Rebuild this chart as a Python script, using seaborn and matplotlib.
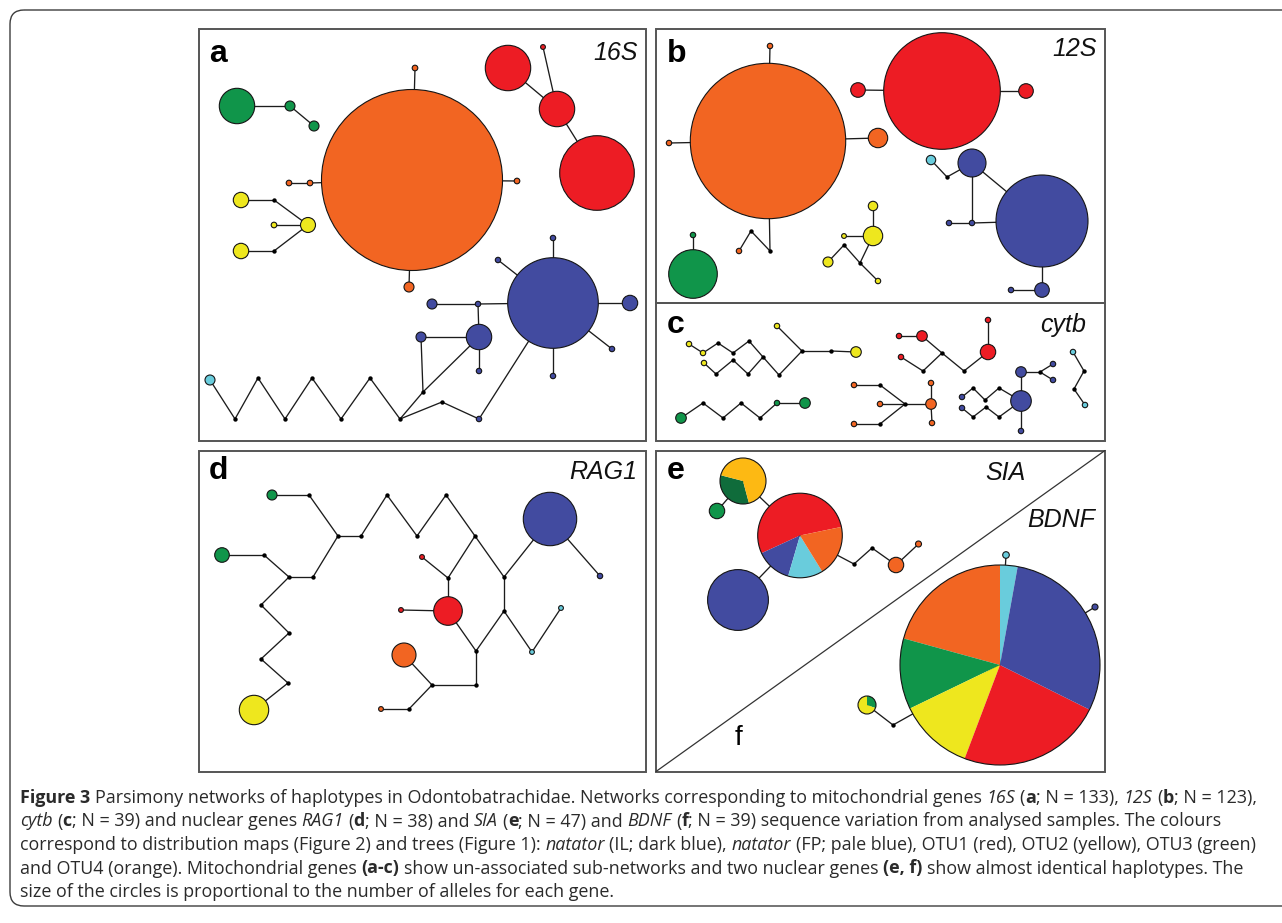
import re
import matplotlib
matplotlib.use("Agg")
import matplotlib.pyplot as plt
import pandas as pd
import seaborn as sns
from matplotlib.patches import Circle, Wedge, Rectangle, FancyBboxPatch

# lineage colours
PAL = {"o": "#F26522", "r": "#ED1C24", "y": "#EEE71E", "g": "#10954A",
       "b": "#424BA0", "p": "#69CCDC", "dg": "#0F6C3B", "au": "#FDB913"}

# haplotype nodes: id, x, y, radius, colour ("k" = median vector, "pie" = pie chart)
a_nodes = [
    ("G1", 237, 106, 17.7, "g"), ("G2", 290, 106, 5, "g"), ("G3", 314, 126, 5, "g"),
    ("O1", 412, 180, 90.5, "o"), ("O2", 415, 68, 2.8, "o"), ("O3", 310, 183, 2.8, "o"),
    ("O4", 289, 183, 2.8, "o"), ("O5", 517, 181, 2.8, "o"), ("O6", 409, 287, 5, "o"),
    ("Y1", 241, 200, 7.7, "y"), ("Y2", 308, 225, 7.5, "y"), ("Y3", 274, 225, 2.8, "y"),
    ("Y4", 241, 251, 7.7, "y"), ("J1", 274, 200, 2, "k"), ("J2", 274, 251, 2, "k"),
    ("R1", 508, 68, 22.7, "r"), ("R2", 543, 47, 2.4, "r"), ("R3", 557, 109, 17.7, "r"),
    ("R4", 597, 173, 37.3, "r"),
    ("B1", 553, 303, 45.3, "b"), ("B2", 553, 238, 2.7, "b"), ("B3", 498, 260, 2.7, "b"),
    ("B4", 630, 303, 7.7, "b"), ("B5", 612, 349, 2.7, "b"), ("B6", 553, 376, 2.7, "b"),
    ("B7", 478, 304, 2.7, "b"), ("B8", 432, 304, 5, "b"), ("B9", 479, 337, 12.7, "b"),
    ("B10", 479, 371, 2.7, "b"), ("B11", 421, 337, 5, "b"), ("B12", 479, 419, 2.7, "b"),
    ("J3", 442, 402, 2, "k"), ("J4", 423, 392, 2, "k"),
    ("P1", 210, 380, 5, "p"), ("J5", 235, 419, 2, "k"), ("J6", 258, 378, 2, "k"),
    ("J7", 285, 419, 2, "k"), ("J8", 312, 378, 2, "k"), ("J9", 341, 419, 2, "k"),
    ("J10", 370, 378, 2, "k"), ("J11", 400, 419, 2, "k"),
]
a_edges = [("G1", "G2"), ("G2", "G3"), ("O1", "O2"), ("O1", "O3"), ("O3", "O4"),
           ("O1", "O5"), ("O1", "O6"), ("Y1", "J1"), ("J1", "Y2"), ("Y3", "Y2"),
           ("Y4", "J2"), ("J2", "Y2"), ("R1", "R3"), ("R2", "R3"), ("R3", "R4"),
           ("B1", "B2"), ("B1", "B3"), ("B1", "B4"), ("B1", "B5"), ("B1", "B6"),
           ("B1", "B7"), ("B7", "B8"), ("B7", "B9"), ("B9", "B10"), ("B11", "B9"),
           ("B1", "B12"), ("B12", "J3"), ("J3", "J11"), ("J11", "J4"), ("J4", "B11"),
           ("J4", "B9"), ("P1", "J5"), ("J5", "J6"), ("J6", "J7"), ("J7", "J8"),
           ("J8", "J9"), ("J9", "J10"), ("J10", "J11")]

b_nodes = [
    ("O1", 768, 141, 77.7, "o"), ("O2", 770, 46, 2.7, "o"), ("O3", 669, 143, 2.7, "o"),
    ("O4", 878, 138, 9.7, "o"), ("J1", 770, 251, 2, "k"), ("J2", 751, 231, 2, "k"),
    ("O5", 739, 251, 2.7, "o"),
    ("R1", 942, 91, 58.3, "r"), ("R2", 858, 90, 7.3, "r"), ("R3", 1026, 91, 7.3, "r"),
    ("B1", 972, 163, 14, "b"), ("P1", 931, 160, 4.7, "p"), ("J3", 947, 177, 2, "k"),
    ("B2", 972, 223, 2.7, "b"), ("B3", 949, 223, 2.7, "b"), ("B4", 1042, 221, 46, "b"),
    ("B5", 1042, 290, 7.3, "b"), ("B6", 1011, 290, 2.7, "b"),
    ("G1", 693, 274, 24.3, "g"), ("G2", 693, 235, 2.7, "g"),
    ("Y1", 873, 236, 9.7, "y"), ("Y2", 873, 206, 4.7, "y"), ("Y3", 844, 236, 2.4, "y"),
    ("J4", 844, 245, 2, "k"), ("Y4", 828, 262, 5, "y"), ("J5", 860, 263, 2, "k"),
    ("Y5", 878, 281, 2.7, "y"),
]
b_edges = [("O1", "O2"), ("O1", "O3"), ("O1", "O4"), ("O1", "J1"), ("J1", "J2"),
           ("J2", "O5"), ("R1", "R2"), ("R1", "R3"), ("P1", "J3"), ("J3", "B1"),
           ("B1", "B2"), ("B3", "B2"), ("B2", "B4"), ("B1", "B4"), ("B4", "B5"),
           ("B6", "B5"), ("G1", "G2"), ("Y2", "Y1"), ("Y3", "Y1"), ("Y1", "J5"),
           ("J5", "J4"), ("J4", "Y4"), ("J5", "Y5")]

c_nodes = [
    ("Ya", 689, 344, 2.7, "y"), ("Yb", 703, 353, 2.7, "y"), ("Yc", 704, 363, 2.7, "y"),
    ("Yd", 777, 326, 2.7, "y"), ("Ye", 856, 352, 5.3, "y"),
    ("c1", 718, 343, 2, "k"), ("c2", 733, 353, 2, "k"), ("c3", 749, 341, 2, "k"),
    ("c4", 763, 357, 2, "k"), ("c5", 779, 375, 2, "k"), ("c6", 802, 351, 2, "k"),
    ("c7", 831, 351, 2, "k"), ("c8", 733, 360, 2, "k"), ("c9", 716, 374, 2, "k"),
    ("c10", 748, 374, 2, "k"),
    ("Ga", 681, 418, 5.3, "g"), ("g1", 703, 403, 2, "k"), ("g2", 723, 418, 2, "k"),
    ("g3", 741, 403, 2, "k"), ("g4", 760, 418, 2, "k"), ("Gb", 777, 403, 2.7, "g"),
    ("Gc", 805, 403, 5.3, "g"),
    ("Oa", 854, 385, 2.7, "o"), ("o1", 880, 385, 2, "k"), ("Ob", 880, 404, 2.7, "o"),
    ("o2", 905, 404, 2, "k"), ("Oc", 854, 424, 2.7, "o"), ("o3", 880, 424, 2, "k"),
    ("Od", 931, 404, 5.3, "o"), ("Oe", 931, 383, 2.7, "o"), ("Of", 932, 423, 2.7, "o"),
    ("Ra", 899, 336, 2.7, "r"), ("Rb", 922, 336, 5.3, "r"), ("r1", 942, 353, 2, "k"),
    ("Rc", 901, 357, 2.7, "r"), ("r2", 923, 371, 2, "k"), ("r3", 964, 371, 2, "k"),
    ("Rd", 988, 352, 7.7, "r"), ("Re", 988, 320, 2.7, "r"),
    ("Ba", 962, 397, 2.7, "b"), ("Bb", 962, 408, 2.7, "b"), ("b1", 973, 388, 2, "k"),
    ("b2", 985, 400, 2, "k"), ("b3", 999, 388, 2, "k"), ("b4", 973, 417, 2, "k"),
    ("b5", 986, 407, 2, "k"), ("b6", 999, 417, 2, "k"), ("Bc", 1021, 401, 10.3, "b"),
    ("Bd", 1021, 372, 5.3, "b"), ("b7", 1040, 372, 2, "k"), ("Be", 1053, 364, 2.7, "b"),
    ("Bf", 1053, 380, 2.7, "b"), ("Bg", 1021, 431, 2.7, "b"),
    ("Pa", 1073, 352, 2.7, "p"), ("p1", 1084, 371, 2, "k"), ("p2", 1074, 389, 2, "k"),
    ("Pb", 1085, 405, 2.7, "p"),
]
c_edges = [("Ya", "Yb"), ("Yb", "c1"), ("c1", "c2"), ("c2", "c3"), ("c3", "c4"),
           ("c4", "c5"), ("c5", "c6"), ("c6", "Yd"), ("c6", "c7"), ("c7", "Ye"),
           ("Yc", "c9"), ("c9", "c8"), ("c8", "c10"), ("c10", "c4"),
           ("Ga", "g1"), ("g1", "g2"), ("g2", "g3"), ("g3", "g4"), ("g4", "Gb"), ("Gb", "Gc"),
           ("Oa", "o1"), ("o1", "o2"), ("Ob", "o2"), ("Oc", "o3"), ("o3", "o2"),
           ("o2", "Od"), ("Oe", "Od"), ("Od", "Of"),
           ("Ra", "Rb"), ("Rb", "r1"), ("r1", "r3"), ("Rc", "r2"), ("r2", "r1"),
           ("r3", "Rd"), ("Rd", "Re"),
           ("Ba", "b1"), ("b1", "b2"), ("b2", "b3"), ("b3", "Bc"), ("Bb", "b4"),
           ("b4", "b5"), ("b5", "b6"), ("b6", "Bc"), ("Bc", "Bd"), ("Bd", "b7"),
           ("b7", "Be"), ("b7", "Bf"), ("Bc", "Bg"),
           ("Pa", "p1"), ("p1", "p2"), ("p2", "Pb")]

d_nodes = [
    ("Ga", 272, 495, 5, "g"), ("d1", 309, 495, 2, "k"), ("d2", 338, 536, 2, "k"),
    ("d3", 361, 536, 2, "k"), ("d4", 387, 495, 2, "k"), ("d5", 417, 536, 2, "k"),
    ("d6", 446, 495, 2, "k"), ("d7", 475, 536, 2, "k"), ("d8", 504, 577, 2, "k"),
    ("Ba", 550, 519, 26.7, "b"), ("Bb", 600, 576, 2.7, "b"),
    ("Gb", 222, 555, 7.3, "g"), ("d9", 264, 555, 2, "k"), ("d10", 289, 577, 2, "k"),
    ("d11", 313, 577, 2, "k"), ("d12", 261, 605, 2, "k"), ("d13", 289, 633, 2, "k"),
    ("d14", 261, 659, 2, "k"), ("d15", 288, 683, 2, "k"), ("Y", 254, 710, 14.7, "y"),
    ("Ra", 422, 557, 2.4, "r"), ("d16", 448, 578, 2, "k"), ("Rb", 448, 611, 14.3, "r"),
    ("Rc", 401, 610, 2.4, "r"), ("d17", 504, 611, 2, "k"), ("d18", 476, 651, 2, "k"),
    ("d19", 476, 685, 2, "k"), ("d20", 432, 685, 2, "k"), ("O", 404, 655, 12, "o"),
    ("d21", 409, 709, 2, "k"), ("Ob", 381, 709, 2.4, "o"),
    ("Pa", 532, 652, 2.4, "p"), ("Pb", 561, 608, 2.4, "p"),
]
d_edges = [("Ga", "d1"), ("d1", "d2"), ("d2", "d3"), ("d3", "d4"), ("d4", "d5"),
           ("d5", "d6"), ("d6", "d7"), ("d7", "d8"), ("d8", "Ba"), ("Ba", "Bb"),
           ("Gb", "d9"), ("d9", "d10"), ("d10", "d11"), ("d11", "d2"), ("d10", "d12"),
           ("d12", "d13"), ("d13", "d14"), ("d14", "d15"), ("d15", "Y"),
           ("Ra", "d16"), ("d7", "d16"), ("d16", "Rb"), ("Rc", "Rb"), ("d8", "d17"),
           ("Rb", "d18"), ("d17", "d18"), ("d18", "d19"), ("d19", "d20"), ("O", "d20"),
           ("d20", "d21"), ("d21", "Ob"), ("d17", "Pa"), ("Pa", "Pb")]

ef_nodes = [
    ("T", 743, 481, 23, "pie"), ("Gs", 717, 511, 7.7, "g"), ("M", 800, 535.5, 42.3, "pie"),
    ("Bl", 738, 600, 30.4, "b"), ("e1", 854, 564, 2, "k"), ("e2", 872, 548, 2, "k"),
    ("Or", 896, 565, 7.7, "o"), ("Os", 918.5, 544, 3, "o"),
    ("F", 1000, 665, 100, "pie"), ("Ps", 1006, 555, 3.3, "p"), ("Bs", 1095, 607, 3, "b"),
    ("S", 867, 705, 9, "pie"), ("f1", 893, 725, 2, "k"),
]
ef_edges = [("Gs", "T"), ("T", "M"), ("Bl", "M"), ("M", "e1"), ("e1", "e2"),
            ("e2", "Or"), ("Or", "Os"), ("Ps", "F"), ("Bs", "F"), ("S", "f1"), ("f1", "F")]

# pie charts: node id -> (shares, colours, start angle of first share)
pie_shares = {
    "T": ([119.5, 240.5], ["dg", "au"], 165.5),
    "M": ([193, 49, 48, 70], ["r", "b", "p", "o"], 11.7),
    "F": ([10.2, 74.6, 41.2, 43.5, 84.2, 106.3], ["p", "o", "g", "y", "r", "b"], 79.8),
    "S": ([110, 250], ["g", "y"], -20),
}

caption_lines = [
    "**Figure 3** Parsimony networks of haplotypes in Odontobatrachidae. Networks corresponding to mitochondrial genes _16S_ (**a**; N = 133), _12S_ (**b**; N = 123),",
    "_cytb_ (**c**; N = 39) and nuclear genes _RAG1_ (**d**; N = 38) and _SIA_ (**e**; N = 47) and _BDNF_ (**f**; N = 39) sequence variation from analysed samples. The colours",
    "correspond to distribution maps (Figure 2) and trees (Figure 1): _natator_ (IL; dark blue), _natator_ (FP; pale blue), OTU1 (red), OTU2 (yellow), OTU3 (green)",
    "and OTU4 (orange). Mitochondrial genes **(a-c)** show un-associated sub-networks and two nuclear genes **(e, f)** show almost identical haplotypes. The",
    "size of the circles is proportional to the number of alleles for each gene.",
]

sns.set_theme(style="white")
plt.rcParams["font.family"] = ["Liberation Sans", "DejaVu Sans"]
CAP_FONT = ["Open Sans", "DejaVu Sans"]
INK = "#151515"

fig = plt.figure(figsize=(12.82, 9.23), dpi=100)
ax = fig.add_axes([0, 0, 1, 1])
ax.set_xlim(0, 1282)
ax.set_ylim(923, 0)


def draw_network(nodes, edges):
    df = pd.DataFrame(nodes, columns=["id", "x", "y", "r", "c"]).set_index("id")
    rows = []
    for k, (u, v) in enumerate(edges):
        rows.append((k, df.at[u, "x"], df.at[u, "y"]))
        rows.append((k, df.at[v, "x"], df.at[v, "y"]))
    seg = pd.DataFrame(rows, columns=["edge", "x", "y"])
    sns.lineplot(data=seg, x="x", y="y", units="edge", estimator=None, sort=False,
                 color="#1c1c1c", linewidth=0.95, ax=ax, legend=False, zorder=2)
    dots = df[df.c == "k"]
    if len(dots):
        sns.scatterplot(data=dots, x="x", y="y", s=10, color="black", linewidth=0,
                        ax=ax, legend=False, zorder=4)
    for _, n in df[~df.c.isin(["k", "pie"])].iterrows():
        ax.add_patch(Circle((n.x, n.y), n.r, facecolor=PAL[n.c], edgecolor=INK,
                            linewidth=0.8, zorder=3))
    return df


def draw_pie(cx, cy, r, shares, cols, start):
    a = start
    tot = sum(shares)
    for s, c in zip(shares, cols):
        span = 360.0 * s / tot
        # y axis is inverted, so screen angles are negated
        ax.add_patch(Wedge((cx, cy), r, -(a + span), -a, facecolor=PAL[c],
                           edgecolor="none", zorder=3))
        a += span
    ax.add_patch(Circle((cx, cy), r, facecolor="none", edgecolor=INK,
                        linewidth=0.8, zorder=3.5))


for nodes, edges in [(a_nodes, a_edges), (b_nodes, b_edges), (c_nodes, c_edges),
                     (d_nodes, d_edges)]:
    draw_network(nodes, edges)
ef = draw_network(ef_nodes, ef_edges)
for pid, (shares, cols, start) in pie_shares.items():
    draw_pie(ef.at[pid, "x"], ef.at[pid, "y"], ef.at[pid, "r"], shares, cols, start)

# panel frames
frame_kw = dict(fill=False, edgecolor="#555555", linewidth=1.4, zorder=6)
for x0, y0, x1, y1 in [(198.5, 28.5, 646, 440.5), (656, 28.5, 1105, 302.5),
                       (656, 302.5, 1105, 440.5), (198.5, 450.5, 646, 771.5),
                       (656, 450.5, 1105, 771.5)]:
    ax.add_patch(Rectangle((x0, y0), x1 - x0, y1 - y0, **frame_kw))
ax.plot([656, 1105], [771.5, 450.5], color="#333333", linewidth=0.9, zorder=6)

# outer rounded frame around figure and caption
ax.add_patch(FancyBboxPatch((10, 10), 1300, 896, boxstyle="round,pad=0,rounding_size=14",
                            fill=False, edgecolor="#3c3c3c", linewidth=1.0, zorder=1))

# panel letters and gene names
for x, y, s in [(209, 62, "a"), (667, 62, "b"), (667, 333, "c"), (209, 479, "d"), (667, 479, "e")]:
    ax.text(x, y, s, fontsize=23, fontweight="bold", color="black", ha="left", va="baseline")
ax.text(735, 745, "f", fontsize=20, color="black", ha="left", va="baseline")
for x, y, s in [(638, 60, "16S"), (1097, 56, "12S"), (1086, 332, "cytb"),
                (637, 479, "RAG1"), (1026, 480, "SIA"), (1095, 527, "BDNF")]:
    ax.text(x, y, s, fontsize=18, fontstyle="italic", color="#111111", ha="right", va="baseline")

# caption with mixed bold / italic runs
TOKEN = re.compile(r"(\*\*.+?\*\*|_.+?_)")
renderer = fig.canvas.get_renderer()
_space = {}


def parse(line):
    out = []
    for piece in TOKEN.split(line):
        if not piece:
            continue
        if piece.startswith("**"):
            out.append((piece[2:-2], "bold", "normal"))
        elif piece.startswith("_") and piece.endswith("_") and len(piece) > 1:
            out.append((piece[1:-1], "normal", "italic"))
        else:
            out.append((piece, "normal", "normal"))
    return out


def text_w(s, size, wt, st):
    t = ax.text(0, 0, s, fontsize=size, fontweight=wt, fontstyle=st, family=CAP_FONT)
    w = t.get_window_extent(renderer).width
    t.remove()
    return w


def space_w(size, wt, st):
    key = (size, wt, st)
    if key not in _space:
        _space[key] = text_w("n n", size, wt, st) - text_w("nn", size, wt, st)
    return _space[key]


def put_line(x, y, line, size, draw=True):
    x0 = x
    for txt, wt, st in parse(line):
        lead = len(txt) - len(txt.lstrip(" "))
        trail = len(txt) - len(txt.rstrip(" "))
        core = txt.strip(" ")
        sp = space_w(size, wt, st)
        x += lead * sp
        if core:
            if draw:
                t = ax.text(x, y, core, fontsize=size, fontweight=wt, fontstyle=st,
                            family=CAP_FONT, color="#2a2a2a", ha="left", va="baseline")
                x += t.get_window_extent(renderer).width
            else:
                x += text_w(core, size, wt, st)
        x += trail * sp
    return x - x0


base = 10.0
width0 = put_line(20, 803, caption_lines[0], base, draw=False)
cap_size = base * 1234.0 / width0
for i, line in enumerate(caption_lines):
    put_line(20, 803 + 23.5 * i, line, cap_size)

ax.set_xlim(0, 1282)
ax.set_ylim(923, 0)
ax.axis("off")
fig.savefig("out.png", dpi=100, facecolor="white")
